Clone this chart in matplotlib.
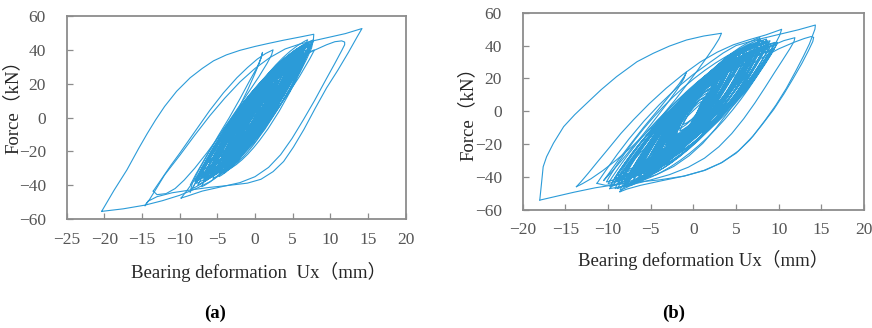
import numpy as np
import matplotlib.pyplot as plt
from matplotlib.path import Path
from matplotlib.patches import PathPatch

plt.rcParams['font.family'] = ['Liberation Serif', 'Noto Sans CJK SC']

LINE = '#2b9bd8'
GREY = '#8c8c8c'

# ---------------- (a) ----------------
# big loops: upper branch then lower branch (Ux in mm, force in kN)
a_l1_x = [-20.35, -18.7, -17.0, -15.4, -14.3, -13.2, -12.0, -10.4, -8.6, -7.0, -5.5, -3.8, -2.0, 0.0, 1.8, 3.8, 6.0, 7.8,
          7.75, 7.5, 6.9, 6.0, 5.0, 3.9, 2.6, 1.3, -0.1, -1.6, -3.0, -4.5, -6.0, -7.8, -10.0, -12.3, -14.6, -17.5, -20.35]
a_l1_f = [-55.5, -43, -31, -18, -9.5, -1.5, 6.5, 15.5, 23.5, 29, 33.5, 37, 39.7, 42, 43.8, 45.7, 47.6, 49.2,
          46, 41, 35, 27, 19, 11, 2, -7, -15, -22, -28, -33.5, -38, -42, -46, -49.2, -51.8, -54, -55.5]

a_l2_x = [-14.6, -14.0, -13.3, -12.0, -10.0, -8.0, -6.0, -4.0, -2.0, 0.0, 2.0, 4.0, 6.0, 8.0, 10.0, 12.0, 14.2,
          13.6, 12.4, 11.0, 9.5, 8.0, 6.5, 5.1, 3.8, 2.4, 0.8, -1.0, -3.8, -6.0, -8.5, -11.0, -13.0, -14.2, -14.6]
a_l2_f = [-52.1, -48.5, -43.5, -34, -22.5, -10.5, 1, 11.5, 21, 29, 35.5, 40.5, 43.5, 45.6, 47.6, 49.6, 52.6,
          48, 38.5, 28, 17.5, 5.5, -7, -17.5, -26, -32, -36.5, -38.8, -40.3, -41.3, -42.8, -44.5, -46.8, -49.5, -52.1]

a_l3_x = [-13.5, -12.5, -11.2, -10.0, -8.0, -6.0, -4.2, -2.4, -1.0, 0.3, 1.4, 2.4,
          2.2, 1.6, 0.5, -1.0, -2.8, -4.6, -6.4, -8.0, -9.4, -10.6, -11.8, -13.0, -13.5]
a_l3_f = [-43.5, -37, -28.5, -21.2, -8.5, 4.2, 14.5, 23.5, 29.5, 34.5, 37.8, 40,
          37, 32, 24, 14, 2, -10, -21, -30, -37, -42, -45, -45.6, -43.5]

a_l4_x = [-9.8, -9.0, -7.8, -6.3, -4.5, -2.5, -0.5, 1.5, 3.5, 5.5, 7.5, 9.5, 10.6, 11.5, 11.9,
          11.9, 11.5, 10.6, 9.3, 7.9, 6.4, 4.9, 3.4, 1.8, 0.0, -2.0, -4.5, -7.0, -9.0, -9.8]
a_l4_f = [-47.6, -43, -35.5, -26, -15, -3, 8, 18, 26.5, 33.5, 39, 43, 44.8, 45.3, 44.6,
          43, 39.5, 32, 21.5, 10, -1.5, -12.5, -22, -29.5, -35, -38.5, -41, -43.5, -46.5, -47.6]

a_l5_x = [-8.6, -8.0, -7.0, -5.8, -4.5, -3.2, -2.0, -0.9, 0.0, 0.6, 1.0,
          0.8, 0.2, -0.8, -2.0, -3.4, -4.9, -6.3, -7.5, -8.3, -8.6]
a_l5_f = [-44, -39.5, -32, -23, -13, -3, 7, 17, 26, 32.5, 38.5,
          35, 29, 21, 11, 0, -11, -22, -31.5, -38.5, -44]

# small cycles in the middle: turning points (low, high, low, high, ...)
a_low_x = [-8.6, -7.9, -7.2, -6.6, -6.0, -5.4, -4.9, -7.4, -6.9, -4.4, -3.9, -5.8, -3.4, -2.9, -6.2, -7.0,
           -4.6, -2.4, -5.1, -8.0, -3.7, -4.2, -6.4, -5.6, -3.2, -7.6, -5.0, -6.8, -4.0, -2.0, -5.3, -7.3,
           -3.0, -6.1, -4.8, -8.3, -3.6, -5.7, -2.6, -6.5, -4.3, -7.8, -5.9, -3.3, -6.3, -4.7, -7.1, -5.5,
           -2.6, -1.8, -3.2, -1.2, -2.2, -3.6, -1.5, -2.9, -2.0, -3.4]
a_low_f = [-40, -37, -35, -33, -31, -30, -28, -34, -36, -27, -25, -32, -22, -20, -29, -31,
           -30, -16, -24, -38, -27, -33, -27, -36, -29, -40, -26, -38, -30, -12, -34, -35,
           -18, -25, -35, -42, -31, -28, -21, -37, -23, -39, -33, -26, -30, -32, -41, -30,
           -17, -12, -21, -7, -14, -23, -9, -19, -13, -22]
a_high_x = [7.6, 7.2, 6.8, 6.2, 5.7, 5.1, 4.6, 7.4, 6.5, 4.1, 3.6, 6.0, 3.1, 2.6, 5.5, 6.7,
            5.0, 2.1, 4.6, 7.8, 3.6, 4.3, 5.4, 6.3, 3.2, 7.9, 4.0, 6.9, 5.2, 1.6, 5.8, 7.1,
            2.8, 4.9, 5.6, 7.7, 3.9, 6.1, 2.4, 6.6, 4.4, 7.5, 5.3, 3.4, 6.4, 4.8, 7.0, 5.9,
            2.0, 1.4, 2.6, 0.8, 1.7, 3.0, 1.1, 2.3, 1.5, 2.8]
a_high_f = [44, 42, 40, 38, 36, 33, 31, 43, 40, 28, 25, 36, 22, 19, 32, 35,
            38, 15, 29, 46, 33, 36, 30, 41, 30, 40, 30, 44, 34, 11, 37, 42,
            20, 32, 39, 45, 28, 34, 19, 38, 27, 43, 35, 26, 39, 31, 46, 33,
            14, 10, 18, 6, 12, 20, 8, 16, 11, 19]

# ---------------- (b) ----------------
b_l1_x = [-18.0, -17.8, -17.6, -17.2, -16.4, -15.2, -13.9, -12.5, -10.8, -9.0, -6.6, -4.7, -2.8, -0.8, 1.2, 3.3,
          3.0, 2.4, 1.6, 0.5, -0.8, -2.2, -3.8, -5.5, -7.2, -9.0, -10.6, -12.0, -13.0, -13.7]
b_l1_f = [-54, -44, -33.7, -27.6, -19.4, -9.3, -2, 4.9, 13.2, 21.1, 30.2, 35.3, 39.7, 43.4, 45.8, 47.5,
          44, 39, 33, 25, 16, 6.5, -3.5, -13, -21.5, -29.5, -36, -41, -44, -45.8]

b_l2_x = [-13.7, -13.2, -12.3, -11.2, -10.0, -8.5, -7.0, -5.2, -3.2, -1.2, 0.8, 2.8, 4.7, 6.5, 8.5, 10.35,
          10.1, 9.6, 8.8, 7.8, 6.6, 5.3, 4.0, 2.6, 1.1, -0.5, -2.3, -4.3, -6.5, -8.8, -10.3, -11.3]
b_l2_f = [-45.8, -43, -37.5, -30.5, -23, -13.5, -5, 4.5, 14, 22.5, 30, 36, 40.5, 43.5, 46.5, 49.9,
          46, 41, 34.5, 27, 18, 8.5, -1, -10.5, -19.5, -27, -33.5, -38.5, -42, -44.3, -45, -43.8]

b_l3_x = [-11.3, -10.8, -10.0, -8.9, -7.5, -5.8, -4.0, -2.0, 0.0, 2.0, 3.5, 5.0, 7.0, 10.2, 12.3, 14.3,
          14.25, 14.0, 13.6, 12.9, 12.0, 10.9, 9.7, 8.4, 7.0, 5.3, 3.4, 1.4, -1.0, -4.0, -6.5, -9.0, -11.5,
          -14.0, -16.0, -18.0]
b_l3_f = [-43.8, -40, -34, -26, -16.5, -6, 4, 14, 22.5, 30, 35.5, 40, 43, 47, 49.6, 52.5,
          50, 46.5, 41, 33.5, 24.5, 14, 4, -5.5, -15, -24, -31, -35.8, -39.3, -41.7, -43, -44.5, -46.5,
          -49.2, -51.6, -54]

b_l4_x = [-8.6, -8.0, -7.0, -5.7, -4.0, -2.0, 0.0, 2.0, 4.0, 6.0, 8.0, 10.0, 11.8, 13.0, 13.8, 14.1,
          14.0, 13.5, 12.7, 11.7, 10.6, 9.4, 8.0, 6.6, 5.0, 3.2, 1.2, -1.2, -3.8, -6.2, -7.8, -8.6]
b_l4_f = [-48.9, -45.5, -39, -30.5, -20.5, -9.5, 0.5, 10, 18.5, 26, 32.5, 38, 42, 44.3, 45.5, 45.0,
          42.5, 37, 29, 20, 10.5, 1, -8.5, -17.5, -25.5, -31.5, -36, -39.5, -42.3, -45, -47.3, -48.9]

b_l5_x = [-9.8, -9.2, -8.2, -6.8, -5.0, -3.0, -1.0, 1.0, 3.0, 5.0, 7.0, 9.0, 10.6, 11.9,
          11.8, 11.3, 10.5, 9.5, 8.4, 7.2, 5.9, 4.5, 3.0, 1.3, -0.6, -2.8, -5.2, -7.6, -9.8]
b_l5_f = [-47, -43.5, -37, -28.5, -18.5, -8, 2, 11.5, 20, 27.5, 34, 39.5, 43, 44.8,
          42.5, 38, 31.5, 23.5, 14.5, 5, -4.5, -13.5, -21.5, -28.5, -34, -38.5, -42, -45, -47]

b_l6_x = [-10.5, -9.8, -8.7, -7.3, -5.8, -4.2, -2.8, -1.7, -1.1, -0.8,
          -1.1, -1.8, -2.9, -4.3, -5.8, -7.3, -8.6, -9.6, -10.5]
b_l6_f = [-42, -37, -29, -19.5, -9.5, 0.5, 9.5, 16.5, 21, 24,
          20, 14, 6, -3.5, -13.5, -23, -31, -37, -42]

b_low_x = [-9.6, -8.8, -8.2, -7.5, -9.2, -6.8, -6.2, -8.5, -5.6, -7.8, -5.0, -10.2, -4.4, -7.0, -3.8, -9.0,
           -6.5, -3.2, -8.0, -5.8, -2.6, -7.2, -4.8, -9.8, -6.0, -8.6, -3.6, -7.6, -5.2, -9.4, -4.2, -6.6,
           -8.3, -5.4, -7.3, -3.0, -9.0, -6.3, -4.6, -8.9, -7.0, -5.7, -10.0, -4.0, -6.9, -8.1, -5.1, -7.7,
           -3.4, -9.3, -3.0, -2.2, -4.0, -1.6, -3.4, -2.6, -4.6, -1.2, -3.8, -2.0, -5.0, -2.8, -1.8, -4.2,
           -3.2, -2.4]
b_low_f = [-44, -41, -46, -38, -47, -36, -34, -42, -32, -45, -30, -43, -27, -40, -24, -39,
           -43, -20, -36, -38, -16, -44, -34, -46, -30, -48, -30, -41, -37, -45, -28, -42,
           -40, -33, -45, -22, -43, -36, -31, -47, -39, -40, -44, -26, -35, -46, -35, -43,
           -25, -41, -22, -16, -26, -12, -24, -20, -30, -8, -27, -14, -32, -19, -11, -28,
           -23, -17]
b_high_x = [9.4, 8.8, 8.2, 7.6, 9.0, 7.0, 6.4, 9.6, 5.8, 7.4, 5.2, 8.6, 4.6, 6.8, 4.0, 9.2,
            6.0, 3.4, 8.0, 7.8, 2.8, 5.4, 6.6, 9.8, 4.4, 8.4, 5.6, 7.2, 6.2, 9.0, 4.8, 7.6,
            8.8, 5.0, 7.9, 3.6, 9.5, 6.9, 5.3, 8.5, 7.3, 6.1, 9.9, 4.2, 7.0, 8.7, 5.7, 8.1,
            3.9, 9.2, 2.6, 1.8, 3.6, 1.4, 3.0, 2.2, 4.2, 1.0, 3.4, 1.6, 4.6, 2.4, 1.2, 3.8,
            2.8, 2.0]
b_high_f = [40, 38, 43, 36, 39, 34, 32, 42, 30, 41, 28, 44, 26, 39, 23, 37,
            36, 20, 35, 45, 16, 33, 40, 41, 30, 39, 36, 31, 38, 43, 29, 40,
            42, 31, 44, 22, 38, 35, 33, 40, 37, 34, 42, 25, 39, 43, 32, 41,
            24, 37, 18, 13, 24, 9, 21, 16, 28, 6, 24, 11, 30, 17, 8, 26,
            20, 14]

W, H = 872, 328
fig = plt.figure(figsize=(W / 100, H / 100), dpi=100)


def px_axes(x0, x1, y0, y1):
    return fig.add_axes([x0 / W, 1 - y1 / H, (x1 - x0) / W, (y1 - y0) / H])


def cycles(ax, lx, lf, hx, hf, shape):
    # each half cycle is a cubic curve: steep after reversal, softer near the next peak
    a, b, c, d = shape
    tips = []
    for i in range(len(lx)):
        tips += [(lx[i], lf[i]), (hx[i], hf[i])]
    verts, codes = [tips[0]], [Path.MOVETO]
    for p0, p3 in zip(tips[:-1], tips[1:]):
        dx, df = p3[0] - p0[0], p3[1] - p0[1]
        verts += [(p0[0] + a * dx, p0[1] + b * df),
                  (p3[0] - c * dx, p3[1] - d * df), p3]
        codes += [Path.CURVE4] * 3
    ax.add_patch(PathPatch(Path(verts, codes), fill=False, edgecolor=LINE, lw=0.8))


def style(ax, xlim, xticks):
    ax.set_xlim(*xlim)
    ax.set_ylim(-60, 60)
    ax.set_xticks(xticks)
    ax.set_yticks(np.arange(-60, 61, 20))
    for s in ax.spines.values():
        s.set_color(GREY)
        s.set_linewidth(1.3)
    ax.tick_params(direction='in', length=4, width=0.9, color=GREY,
                   labelsize=12.5, labelcolor='#555555')
    ax.tick_params(axis='y', pad=15)
    ax.tick_params(axis='x', pad=9)
    ax.tick_params(top=False, right=False)


ax_a = px_axes(66.6, 405.7, 16, 219)
for xs, fs in [(a_l1_x, a_l1_f), (a_l2_x, a_l2_f), (a_l3_x, a_l3_f),
               (a_l4_x, a_l4_f), (a_l5_x, a_l5_f)]:
    ax_a.plot(xs, fs, color=LINE, lw=0.8)
cycles(ax_a, a_low_x, a_low_f, a_high_x, a_high_f, (0.25, 0.42, 0.35, 0.12))
style(ax_a, (-25, 20), np.arange(-25, 21, 5))

ax_b = px_axes(522.7, 864, 12.7, 210)
for xs, fs in [(b_l1_x, b_l1_f), (b_l2_x, b_l2_f), (b_l3_x, b_l3_f),
               (b_l4_x, b_l4_f), (b_l5_x, b_l5_f), (b_l6_x, b_l6_f)]:
    ax_b.plot(xs, fs, color=LINE, lw=0.8)
cycles(ax_b, b_low_x, b_low_f, b_high_x, b_high_f, (0.24, 0.46, 0.38, 0.12))
style(ax_b, (-20, 20), np.arange(-20, 21, 5))

lab = dict(fontsize=13.5, color='#262626', ha='center', va='center')
fig.text(259 / W, 1 - 272 / H, 'Bearing deformation  Ux（mm）', **lab)
fig.text(703 / W, 1 - 260 / H, 'Bearing deformation Ux（mm）', **lab)
fig.text(13 / W, 1 - 102 / H, 'Force（kN）', rotation=90, **lab)
fig.text(468 / W, 1 - 109 / H, 'Force（kN）', rotation=90, **lab)

fig.text(215 / W, 1 - 313 / H, '(a)', fontsize=13.5, fontweight='bold', ha='center', va='center')
fig.text(674 / W, 1 - 313 / H, '(b)', fontsize=13.5, fontweight='bold', ha='center', va='center')

fig.savefig('out.png', dpi=100)
